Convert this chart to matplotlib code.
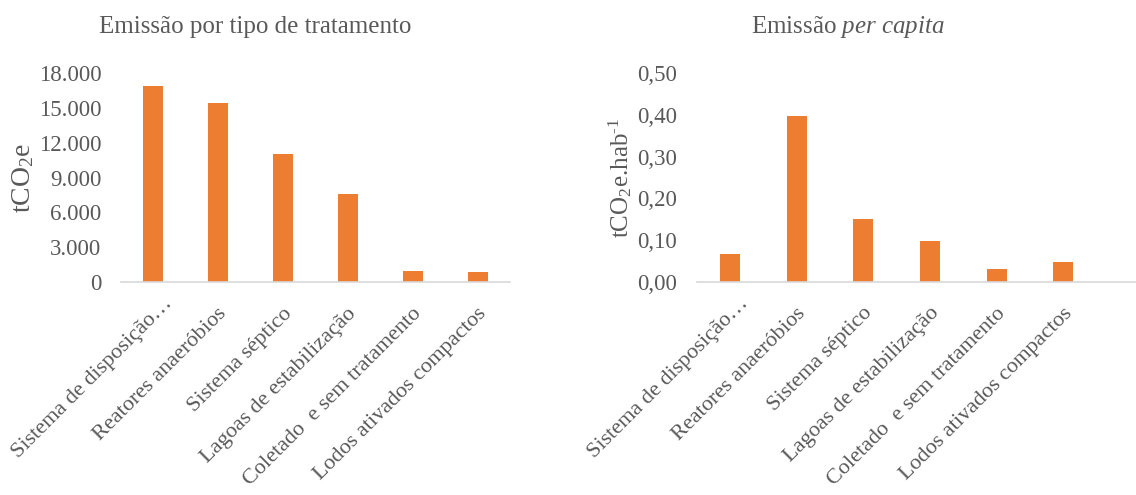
import matplotlib
matplotlib.use("Agg")
import matplotlib.pyplot as plt
from matplotlib.ticker import FuncFormatter, MultipleLocator
import matplotlib.transforms as mtransforms

plt.rcParams['font.family'] = ['Liberation Serif', 'DejaVu Serif']
plt.rcParams['mathtext.fontset'] = 'custom'
plt.rcParams['mathtext.rm'] = 'Liberation Serif'
plt.rcParams['mathtext.it'] = 'Liberation Serif:italic'

categories = [
    "Sistema de disposição…",
    "Reatores anaeróbios",
    "Sistema séptico",
    "Lagoas de estabilização",
    "Coletado  e sem tratamento",
    "Lodos ativados compactos",
]
emissao_total = [16900, 15400, 11000, 7550, 975, 835]
emissao_per_capita = [0.066, 0.398, 0.150, 0.098, 0.030, 0.047]

BAR_COLOR = "#ED7D31"
TEXT_COLOR = "#595959"
AXIS_COLOR = "#D9D9D9"
TICK_FS = 16.5
CAT_FS = 16

fig = plt.figure(figsize=(11.36, 4.95), dpi=100)


def style_axes(ax):
    for side in ("top", "right", "left"):
        ax.spines[side].set_visible(False)
    ax.spines["bottom"].set_color(AXIS_COLOR)
    ax.spines["bottom"].set_linewidth(1.2)
    ax.tick_params(axis="both", length=0, colors=TEXT_COLOR, labelsize=TICK_FS)
    ax.tick_params(axis="y", pad=14)
    ax.set_xticks(range(len(categories)))
    ax.set_xticklabels(categories, rotation=45, ha="right", va="center",
                       rotation_mode="anchor", color=TEXT_COLOR, fontsize=CAT_FS)
    for i, lbl in enumerate(ax.get_xticklabels()):
        # the truncated label sits a little further along its own direction
        dx, dy = (0.06, -0.24) if i else (0.16, -0.14)
        offset = mtransforms.ScaledTranslation(dx, dy, fig.dpi_scale_trans)
        lbl.set_transform(lbl.get_transform() + offset)


# Left panel: total emissions
ax1 = fig.add_axes([0.1063, 0.4303, 0.3427, 0.4222])
ax1.bar(range(len(categories)), emissao_total, width=0.31, color=BAR_COLOR)
ax1.set_xlim(-0.5, len(categories) - 0.5)
ax1.set_ylim(0, 18000)
ax1.yaxis.set_major_locator(MultipleLocator(3000))
ax1.yaxis.set_major_formatter(FuncFormatter(lambda v, p: f"{int(v):,}".replace(",", ".")))
style_axes(ax1)

# Right panel: per capita emissions
ax2 = fig.add_axes([0.6133, 0.4309, 0.3867, 0.4210])
ax2.bar(range(len(categories)), emissao_per_capita, width=0.30, color=BAR_COLOR)
ax2.set_xlim(-0.5, 6.09)
ax2.set_ylim(0, 0.5)
ax2.yaxis.set_major_locator(MultipleLocator(0.1))
ax2.yaxis.set_major_formatter(FuncFormatter(lambda v, p: f"{v:.2f}".replace(".", ",")))
style_axes(ax2)

# Titles
fig.text(255 / 1136, 1 - 27 / 495, "Emissão por tipo de tratamento",
         ha="center", va="center", fontsize=18, color=TEXT_COLOR)
fig.text(848 / 1136, 1 - 27 / 495, r"Emissão $\mathit{per\ capita}$",
         ha="center", va="center", fontsize=18, color=TEXT_COLOR)

# Axis titles
fig.text(23 / 1136, 1 - 178 / 495, r"tCO$_2$e", rotation=90,
         ha="center", va="center", fontsize=20, color=TEXT_COLOR)
fig.text(620 / 1136, 1 - 178 / 495, r"tCO$_2$e.hab$^{\text{-1}}$", rotation=90,
         ha="center", va="center", fontsize=18, color=TEXT_COLOR)

fig.savefig("out.png", dpi=100)
